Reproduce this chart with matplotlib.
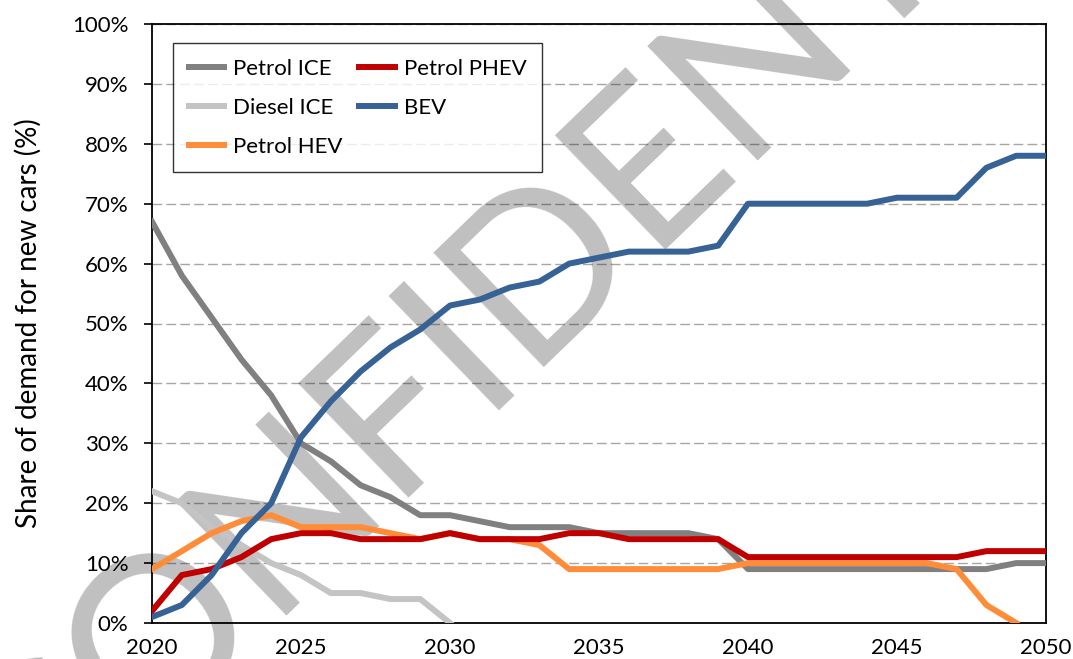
import numpy as np
import matplotlib
matplotlib.use("Agg")
import matplotlib.pyplot as plt
from matplotlib.ticker import FuncFormatter

plt.rcParams['font.family'] = ['Lato', 'DejaVu Sans']

nan = np.nan
years = np.arange(2020, 2051)

petrol_ice = [67, 58, 51, 44, 38, 30, 27, 23, 21, 18, 18, 17, 16, 16, 16, 15,
              15, 15, 15, 14, 9, 9, 9, 9, 9, 9, 9, 9, 9, 10, 10]
diesel_ice = [22, 20, 16, 13, 10, 8, 5, 5, 4, 4, 0] + [nan] * 20
petrol_hev = [9, 12, 15, 17, 18, 16, 16, 16, 15, 14, 15, 14, 14, 13, 9, 9,
              9, 9, 9, 9, 10, 10, 10, 10, 10, 10, 10, 9, 3, 0, nan]
petrol_phev = [2, 8, 9, 11, 14, 15, 15, 14, 14, 14, 15, 14, 14, 14, 15, 15,
               14, 14, 14, 14, 11, 11, 11, 11, 11, 11, 11, 11, 12, 12, 12]
bev = [1, 3, 8, 15, 20, 31, 37, 42, 46, 49, 53, 54, 56, 57, 60, 61,
       62, 62, 62, 63, 70, 70, 70, 70, 70, 71, 71, 71, 76, 78, 78]

series_names = ["Petrol ICE", "Diesel ICE", "Petrol HEV", "Petrol PHEV", "BEV"]
series_colors = ["#808080", "#C4C4C4", "#FF8C38", "#C00000", "#376296"]

fig = plt.figure(figsize=(10.73, 6.59), dpi=100)
ax = fig.add_axes([152/1073, 1-623/659, 894/1073, 599/659])

for name, vals, col in zip(series_names,
                           [petrol_ice, diesel_ice, petrol_hev, petrol_phev, bev],
                           series_colors):
    ax.plot(years, vals, color=col, lw=4.3, label=name, zorder=3,
            solid_joinstyle='round')

ax.set_xlim(2020, 2050)
ax.set_ylim(0, 100)
ax.set_xticks(np.arange(2020, 2051, 5))
ax.set_yticks(np.arange(0, 101, 10))
ax.yaxis.set_major_formatter(FuncFormatter(lambda v, p: "%d%%" % v))
ax.tick_params(axis='x', length=0, pad=10.5, labelsize=16)
ax.tick_params(axis='y', length=6, width=1.2, pad=11, labelsize=16, direction='out')

ax.grid(axis='y', color='#A6A6A6', lw=1.0, ls=(0, (7, 3)), zorder=0.5)
ax.set_axisbelow(True)
for s in ax.spines.values():
    s.set_linewidth(1.3)
    s.set_color('black')

ax.set_ylabel("Share of demand for new cars (%)", fontsize=20)
ax.yaxis.set_label_coords(-0.123, 0.5)

leg = ax.legend(ncol=2, loc='upper left', bbox_to_anchor=(21/894, 580/599),
                borderaxespad=0, fontsize=16, frameon=True, fancybox=False,
                edgecolor='black', handlelength=1.6, handletextpad=0.4,
                labelspacing=0.86, columnspacing=0.75, borderpad=0.7)
leg.get_frame().set_linewidth(1.0)
leg.set_zorder(6)

# watermark (anchor on the baseline, middle of the word)
ax.text(614/1073, 1-290/659, "CONFIDENTIAL", transform=fig.transFigure,
        fontsize=160, rotation=44, color='black', alpha=0.25,
        ha='center', va='baseline', rotation_mode='anchor', zorder=2)

fig.savefig("out.png", dpi=100)
